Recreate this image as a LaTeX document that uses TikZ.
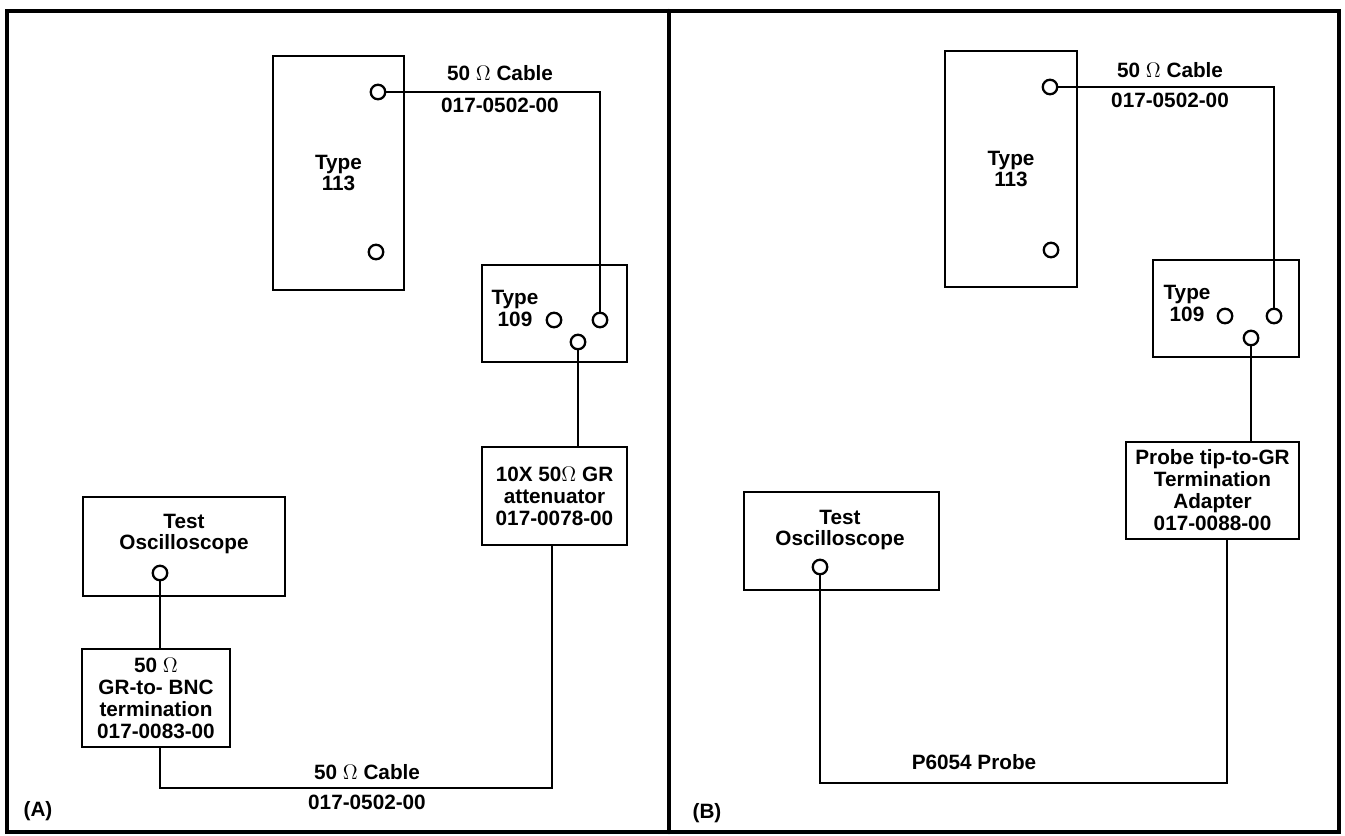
\documentclass[tikz,border=0pt]{standalone}
\usepackage{fontspec}
\setmainfont{Liberation Sans}
\usepackage{tikz}

\begin{document}
\begin{tikzpicture}[x=0.02cm,y=-0.02cm,font=\fontsize{11.8}{12.5}\selectfont\bfseries,line cap=round,
  unit/.style={draw,line width=1.5pt,inner sep=0pt,align=center},
  jack/.style={circle,draw,line width=1.3pt,minimum size=0.29cm,inner sep=0pt,fill=white},
  cable/.style={line width=1.3pt},
  lbl/.style={align=center,inner sep=0pt}]
\useasboundingbox (0,0) rectangle (1345,835);
\draw[line width=2.4pt] (7,11) rectangle (1339,832);
\draw[line width=2.4pt] (669,11) -- (669,832);

\node[unit,minimum width=2.62cm,minimum height=4.68cm] (t113a) at (338.5,173) {Type\\113};
\node[unit,minimum width=2.9cm,minimum height=1.94cm] (t109a) at (554.5,313.5) {};
\node[lbl] (l109a) at (515,308) {Type\\109};
\node[unit,minimum width=2.9cm,minimum height=1.96cm] (att) at (554.5,496) {10X 50$\Omega$ GR\\attenuator\\017-0078-00};
\node[unit,minimum width=4.04cm,minimum height=1.98cm] (osca) at (184,546.5) {};
\node[lbl] (losca) at (184,534) {Test\\Oscilloscope};
\node[unit,minimum width=2.96cm,minimum height=1.96cm] (term) at (156,698) {50 $\Omega$\\GR-to- BNC\\termination\\017-0083-00};

\node[jack] (j113at) at (378,92) {};
\node[jack] (j113ab) at (376,252) {};
\node[jack] (j109al) at (554,320) {};
\node[jack] (j109ar) at (600,320) {};
\node[jack] (j109ab) at (578,342) {};
\node[jack] (josca) at (160,573) {};

\coordinate (cabA) at (552,788);
\draw[cable] (j113at.east) -- (j113at -| j109ar) -- (j109ar.north);
\draw[cable] (j109ab.south) -- (j109ab |- att.north);
\draw[cable] (josca.south) -- (josca |- term.north);
\draw[cable] (josca |- term.south) -- (josca |- cabA) -- (cabA) -- (cabA |- att.south);
\node[lbl] (c1a) at (500,73) {50 $\Omega$ Cable};
\node[lbl] (n1a) at (500,105) {017-0502-00};
\node[lbl] (c2a) at (367,772) {50 $\Omega$ Cable};
\node[lbl] (n2a) at (367,802) {017-0502-00};
\node[lbl] (pa) at (38,811) {(A)};

\node[unit,minimum width=2.64cm,minimum height=4.72cm] (t113b) at (1011,169) {Type\\113};
\node[unit,minimum width=2.92cm,minimum height=1.94cm] (t109b) at (1226,308.5) {};
\node[lbl] (l109b) at (1187,303) {Type\\109};
\node[unit,minimum width=3.46cm,minimum height=1.94cm] (adp) at (1212.5,490.5) {Probe tip-to-GR\\Termination\\Adapter\\017-0088-00};
\node[unit,minimum width=3.9cm,minimum height=1.96cm] (oscb) at (841.5,541) {};
\node[lbl] (loscb) at (840,530) {Test\\Oscilloscope};

\node[jack] (j113bt) at (1050,87) {};
\node[jack] (j113bb) at (1051,250) {};
\node[jack] (j109bl) at (1225,316) {};
\node[jack] (j109br) at (1274,316) {};
\node[jack] (j109bb) at (1251,338) {};
\node[jack] (joscb) at (820,567) {};

\coordinate (prb) at (1227,783);
\draw[cable] (j113bt.east) -- (j113bt -| j109br) -- (j109br.north);
\draw[cable] (j109bb.south) -- (j109bb |- adp.north);
\draw[cable] (joscb.south) -- (joscb |- prb) -- (prb) -- (prb |- adp.south);
\node[lbl] (c1b) at (1170,70) {50 $\Omega$ Cable};
\node[lbl] (n1b) at (1170,100) {017-0502-00};
\node[lbl] (pr) at (974,762) {P6054 Probe};
\node[lbl] (pb) at (707,813) {(B)};
\end{tikzpicture}
\end{document}
